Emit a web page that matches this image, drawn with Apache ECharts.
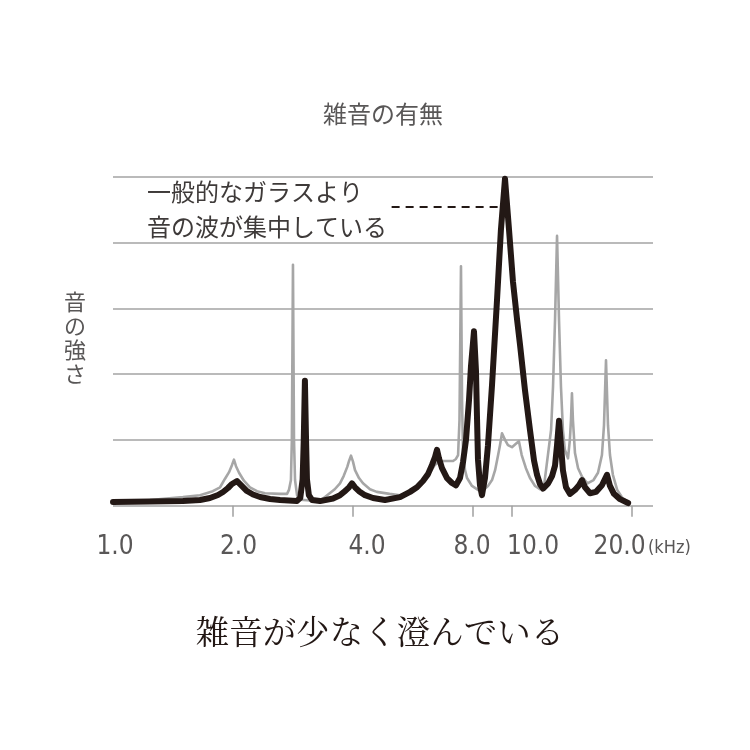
<!DOCTYPE html>
<html>
<head>
<meta charset="utf-8">
<script src="https://cdn.jsdelivr.net/npm/echarts@6/dist/echarts.min.js"></script>
<style>
html,body{margin:0;padding:0;background:#fff;}
#chart{width:750px;height:750px;}
</style>
</head>
<body>
<div id="chart"></div>
<script>
// ---- data (frequency in kHz, relative level) ----
const blackFreq = [1.000,1.238,1.498,1.653,1.751,1.834,1.888,1.943,1.989,2.047,2.095,2.168,2.245,2.338,2.477,2.624,2.895,2.95,2.99,3.01,3.03,3.05,3.066,3.10,3.156,3.306,3.564,3.711,3.820,3.909,3.977,4.047,4.141,4.287,4.490,4.812,5.248,5.560,5.790,5.993,6.169,6.314,6.424,6.498,6.573,6.689,6.885,7.086,7.252,7.422,7.551,7.683,7.817,7.908,8.046,8.140,8.187,8.234,8.330,8.426,8.574,8.724,8.929,9.190,9.400,9.625,9.849,10.08,10.31,10.50,10.80,11.12,11.38,11.58,11.78,11.99,12.35,12.63,12.85,13.00,13.15,13.30,13.45,13.69,14.01,14.42,14.76,15.02,15.28,15.73,16.28,16.85,17.35,17.65,18.06,18.70,19.60];
const blackLevel = [0.056,0.064,0.070,0.087,0.117,0.163,0.208,0.269,0.330,0.375,0.314,0.223,0.170,0.132,0.101,0.087,0.072,0.12,0.40,1.00,1.90,1.00,0.40,0.16,0.087,0.070,0.110,0.160,0.220,0.280,0.340,0.280,0.220,0.160,0.117,0.087,0.130,0.210,0.280,0.375,0.480,0.620,0.740,0.850,0.720,0.570,0.420,0.345,0.310,0.420,0.660,1.000,1.600,2.120,2.650,2.050,1.350,0.700,0.310,0.160,0.420,0.920,1.830,3.120,4.190,4.970,4.200,3.400,2.850,2.440,1.760,1.150,0.690,0.470,0.330,0.260,0.340,0.450,0.610,0.920,1.290,0.920,0.540,0.280,0.180,0.240,0.310,0.390,0.280,0.190,0.210,0.310,0.470,0.300,0.180,0.100,0.040];

const grayFreq = [1.000,1.238,1.498,1.653,1.780,1.856,1.910,1.955,1.989,2.011,2.035,2.071,2.130,2.206,2.297,2.406,2.624,2.733,2.763,2.795,2.810,2.828,2.845,2.862,2.895,2.945,3.306,3.446,3.600,3.711,3.790,3.870,3.910,3.954,4.000,4.047,4.141,4.238,4.413,4.590,4.940,5.248,5.560,5.820,6.060,6.250,6.420,6.610,6.885,7.130,7.250,7.340,7.400,7.464,7.510,7.550,7.640,7.730,7.954,8.234,8.500,8.724,8.929,9.090,9.250,9.350,9.460,9.510,9.625,9.790,10.02,10.25,10.43,10.60,10.86,11.12,11.45,11.78,12.06,12.35,12.56,12.70,12.85,13.00,13.15,13.30,13.45,13.60,13.85,14.00,14.09,14.17,14.25,14.42,14.68,15.02,15.50,16.05,16.47,16.85,17.05,17.25,17.45,17.65,17.95,18.40,18.95,19.60];
const grayLevel = [0.056,0.087,0.130,0.160,0.220,0.280,0.410,0.510,0.620,0.700,0.600,0.500,0.380,0.280,0.220,0.190,0.180,0.180,0.240,0.390,1.000,3.660,1.000,0.390,0.160,0.090,0.070,0.160,0.250,0.340,0.450,0.590,0.680,0.760,0.670,0.540,0.420,0.340,0.250,0.210,0.180,0.160,0.190,0.270,0.390,0.510,0.620,0.680,0.680,0.680,0.710,0.770,1.300,3.640,1.600,0.850,0.540,0.420,0.300,0.240,0.240,0.300,0.390,0.540,0.770,0.920,1.100,1.120,1.000,0.920,0.890,0.940,0.980,0.770,0.570,0.420,0.300,0.250,0.300,0.800,1.150,1.800,2.820,4.100,2.820,1.800,1.150,0.850,0.720,1.000,1.300,1.710,1.300,0.800,0.570,0.440,0.340,0.390,0.500,0.770,1.220,2.210,1.220,0.770,0.470,0.240,0.120,0.060];

const tickValues = [2, 4, 8, 10, 20];
const labelValues = [1, 2, 4, 8, 10, 20];
const unitLabel = '(kHz)';
const titleText = '雑音の有無';
const yAxisText = '音の強さ';
const noteLines = ['一般的なガラスより', '音の波が集中している'];
const captionText = '雑音が少なく澄んでいる';
const leaderFrom = [5.0, 4.54];
const leaderTo = [9.4, 4.54];

// ---- build chart ----
const pair = (xs, ys) => xs.map((x, i) => [x, ys[i]]);
const grayC = '#595757';
const numFont = "'DejaVu Sans Condensed','Liberation Sans Narrow','Roboto',sans-serif";
const cjkFont = "'Noto Sans CJK JP','Noto Sans',sans-serif";
// per-label nudges so the labels sit where the reference prints them
const labelStyleKey = {1: 'l1', 2: 'l2', 4: 'l4', 8: 'l8', 10: 'l10', 20: 'l20'};
const base = {fontFamily: numFont, fontSize: 26, color: grayC, lineHeight: 26};
const rich = {
  l1: Object.assign({}, base, {padding: [0, 0, 0, 4]}),
  l2: Object.assign({}, base, {padding: [0, 0, 0, 11]}),
  l4: Object.assign({}, base, {padding: [0, 0, 0, 28]}),
  l8: Object.assign({}, base, {padding: [0, 2, 0, 0]}),
  l10: Object.assign({}, base, {padding: [0, 0, 0, 43]}),
  l20: Object.assign({}, base, {padding: [0, 24, 0, 0]})
};

const chart = echarts.init(document.getElementById('chart'), null, {renderer: 'canvas'});
chart.setOption({
  animation: false,
  backgroundColor: '#ffffff',
  grid: {left: 113, right: 97, top: 176.7, bottom: 244.3, containLabel: false},
  xAxis: {
    type: 'log', logBase: 2, min: 1, max: 22.63,
    axisLine: {show: false},
    splitLine: {show: false},
    axisTick: {show: true, customValues: tickValues, length: 11, lineStyle: {color: '#a0a0a0', width: 1.5}},
    axisLabel: {
      show: true, customValues: labelValues, margin: 29,
      formatter: v => '{' + (labelStyleKey[v] || 'l1') + '|' + Number(v).toFixed(1) + '}',
      color: grayC, fontFamily: numFont, fontSize: 26,
      rich: rich
    }
  },
  yAxis: {
    type: 'value', min: 0, max: 5, interval: 1,
    axisLine: {show: false}, axisTick: {show: false}, axisLabel: {show: false},
    splitLine: {show: true, lineStyle: {color: '#a3a3a3', width: 1.5}}
  },
  series: [
    {
      type: 'line', name: 'gray', data: pair(grayFreq, grayLevel),
      showSymbol: false, symbol: 'none', smooth: false,
      lineStyle: {color: '#a6a6a6', width: 2.6, join: 'round', cap: 'round'},
      z: 2
    },
    {
      type: 'line', name: 'black', data: pair(blackFreq, blackLevel),
      showSymbol: false, symbol: 'none', smooth: false,
      lineStyle: {color: '#231815', width: 6, join: 'round', cap: 'round'},
      z: 3,
      markLine: {
        silent: true, symbol: 'none', animation: false,
        label: {show: false},
        lineStyle: {color: '#231815', type: [8, 6], width: 2},
        data: [[{coord: leaderFrom}, {coord: leaderTo}]]
      }
    }
  ],
  graphic: [
    {type: 'text', x: 383, y: 114, style: {text: titleText, fill: grayC, font: '24px ' + cjkFont, textAlign: 'center', textVerticalAlign: 'middle'}},
    {type: 'text', x: 147, y: 174, style: {text: noteLines.join('\n'), fill: '#3e3a39', font: '24px ' + cjkFont, lineHeight: 35, textAlign: 'left', textVerticalAlign: 'top'}},
    {type: 'text', x: 75, y: 338, style: {text: yAxisText.split('').join('\n'), fill: grayC, font: '22px ' + cjkFont, lineHeight: 24, textAlign: 'center', textVerticalAlign: 'middle'}},
    {type: 'text', x: 648, y: 548, style: {text: unitLabel, fill: grayC, font: '18px ' + numFont, textAlign: 'left', textVerticalAlign: 'middle'}},
    {type: 'text', x: 380, y: 631, style: {text: captionText, fill: '#231815', font: "33.5px 'Noto Serif CJK JP','Noto Sans CJK JP',serif", textAlign: 'center', textVerticalAlign: 'middle'}}
  ]
});
</script>
</body>
</html>
